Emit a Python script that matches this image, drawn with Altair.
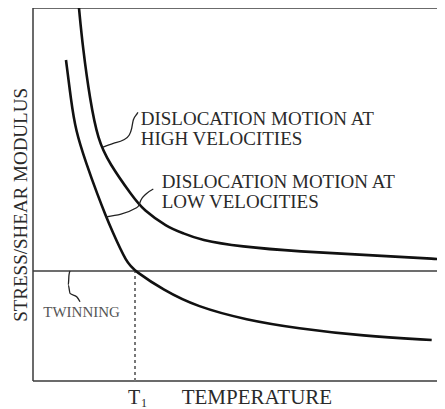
import altair as alt
import pandas as pd

# ---- data (temperature / stress-to-shear-modulus, arbitrary units)
high_t = [11.08, 11.98, 13.73, 15.66, 18.31, 24.02, 26.58, 32.22, 36.22, 40.24, 49.88, 64.34, 80.41, 98.87, 100]
high_s = [100, 89.62, 75.34, 64.61, 58.45, 49.41, 45.84, 41.37, 39.60, 37.80, 36.01, 34.67, 33.78, 32.63, 32.52]

low_t = [7.95, 9.16, 10.24, 12.77, 15.73, 17.47, 18.96, 22.58, 24.58, 31.40, 39.45, 51.49, 63.54, 79.59, 96.07]
low_s = [86.06, 75.34, 67.29, 58.45, 49.41, 44.50, 40.48, 31.64, 29.49, 24.40, 19.92, 16.35, 14.13, 12.06, 10.99]

twinning_s = 29.49          # twinning stress level
t1 = 24.58                  # T1 temperature

# leader lines (annotation pointers)
lead_high_t = [25.3, 25.06, 24.17, 23.78, 23.20, 21.76, 19.35, 16.87]
lead_high_s = [72.0, 71.6, 69.97, 67.75, 65.95, 64.6, 63.7, 62.7]
lead_low_t = [28.99, 27.23, 26.02, 25.42, 24.82, 17.59]
lead_low_s = [51.47, 50.13, 48.53, 46.92, 46.38, 43.97]
lead_tw_t = [8.92, 8.67, 8.51, 8.92, 10.53, 11.33]
lead_tw_s = [29.49, 28.4, 25.74, 23.5, 22.6, 21.26]

# annotation texts
ann_text = ["DISLOCATION MOTION AT", "HIGH VELOCITIES",
            "DISLOCATION MOTION AT", "LOW VELOCITIES", "TWINNING"]
ann_t = [25.95, 25.95, 31.0, 31.0, 2.48]
ann_s = [68.6, 63.3, 51.74, 46.38, 17.24]
ann_size = [19, 19, 19, 19, 15]

x_title = "TEMPERATURE"
y_title = "STRESS/SHEAR MODULUS"
t1_label = "T"
t1_sub = "1"

FONT = "Liberation Serif"
X_MAX = 97.35   # visible right end of the temperature axis (picture is cut there)

# ---- tables
curves = pd.DataFrame({
    "t": high_t + low_t,
    "s": high_s + low_s,
    "curve": ["high"] * len(high_t) + ["low"] * len(low_t),
})
leaders = pd.DataFrame({
    "t": lead_high_t + lead_low_t + lead_tw_t,
    "s": lead_high_s + lead_low_s + lead_tw_s,
    "id": ["h"] * len(lead_high_t) + ["l"] * len(lead_low_t) + ["w"] * len(lead_tw_t),
    "o": list(range(len(lead_high_t))) + list(range(len(lead_low_t))) + list(range(len(lead_tw_t))),
})
ann = pd.DataFrame({"text": ann_text, "t": ann_t, "s": ann_s, "size": ann_size,
                    "c": ["#2a2a2a"] * 4 + ["#555555"]})

xs = alt.Scale(domain=[0, X_MAX], nice=False, zero=False)
ys = alt.Scale(domain=[0, 100], nice=False, zero=False)
X = lambda f: alt.X(f, scale=xs, axis=None)
Y = lambda f: alt.Y(f, scale=ys, axis=None)

frame = alt.Chart(pd.DataFrame({
    "t0": [0, 0, 0], "t1": [X_MAX, 0, X_MAX], "s0": [100, 0, 0], "s1": [100, 100, 0]
})).mark_rule(color="#3a3a3a", strokeWidth=1.5).encode(
    x=X("t0:Q"), x2="t1:Q", y=Y("s0:Q"), y2="s1:Q")

curve_layer = alt.Chart(curves).mark_line(
    color="#111111", strokeWidth=2.6, interpolate="basis", clip=True
).encode(x=X("t:Q"), y=Y("s:Q"), detail="curve:N")

leader_layer = alt.Chart(leaders).mark_line(
    color="#222222", strokeWidth=1.3, interpolate="monotone"
).encode(x=X("t:Q"), y=Y("s:Q"), detail="id:N", order="o:Q")

twin_line = alt.Chart(pd.DataFrame({"s": [twinning_s]})).mark_rule(
    color="#3c3c3c", strokeWidth=1.5
).encode(y=Y("s:Q"))

t1_line = alt.Chart(pd.DataFrame({"t": [t1], "s0": [0], "s1": [twinning_s]})).mark_rule(
    color="#777777", strokeWidth=2, strokeDash=[3, 3]
).encode(x=X("t:Q"), y=Y("s0:Q"), y2="s1:Q")

ann_layer = alt.Chart(ann).mark_text(
    font=FONT, align="left", baseline="alphabetic"
).encode(x=X("t:Q"), y=Y("s:Q"), text="text:N",
         size=alt.Size("size:Q", scale=None),
         color=alt.Color("c:N", scale=None))

xlab = pd.DataFrame({"text": [t1_label, t1_sub, x_title],
                     "t": [22.9, 26.0, 35.83], "s": [-6.3, -6.9, -6.3],
                     "size": [20, 12, 21]})
xlab_layer = alt.Chart(xlab).mark_text(
    font=FONT, align="left", baseline="alphabetic", color="#2a2a2a"
).encode(x=X("t:Q"), y=Y("s:Q"), text="text:N", size=alt.Size("size:Q", scale=None))

ylab_layer = alt.Chart(pd.DataFrame({"text": [y_title], "t": [-1.52], "s": [47.2]})).mark_text(
    font=FONT, align="center", baseline="alphabetic", angle=270, fontSize=19, color="#2a2a2a"
).encode(x=X("t:Q"), y=Y("s:Q"), text="text:N")

chart = alt.layer(
    frame, twin_line, t1_line, curve_layer, leader_layer, ann_layer, xlab_layer, ylab_layer
).properties(
    width=404, height=373,
    autosize=alt.AutoSizeParams(type="none"),
    padding={"left": 25, "top": 0, "right": 0, "bottom": 28},
    background="white",
).configure_view(stroke=None)

chart.save("out.html", embed_options={"renderer": "svg", "actions": False})
